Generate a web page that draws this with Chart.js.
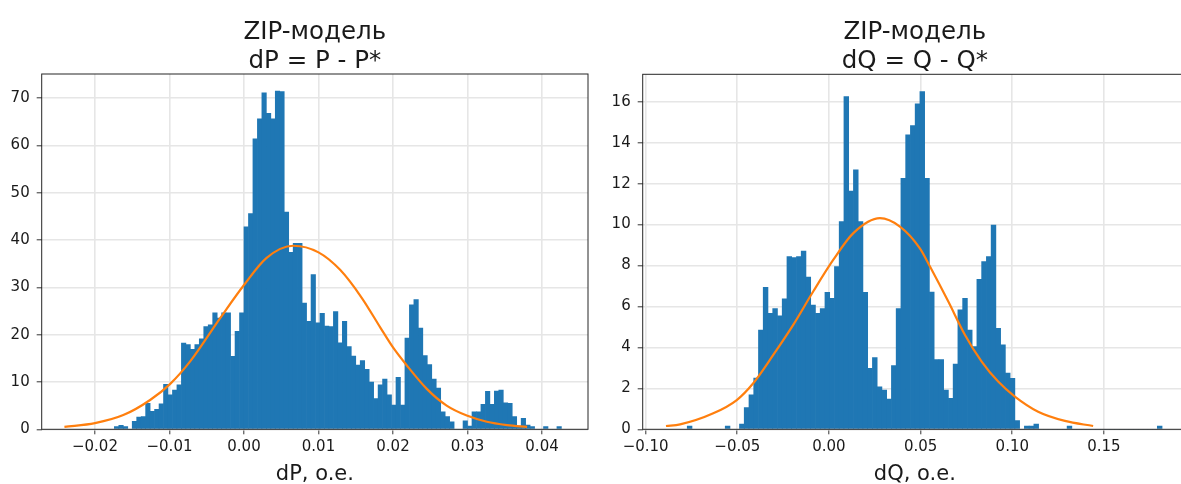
<!DOCTYPE html>
<html lang="ru">
<head>
  <meta charset="UTF-8">
  <title>ZIP-модель</title>
  <style>
    html, body { margin: 0; padding: 0; background: #fff; overflow: hidden; }
    .wrap { position: relative; width: 1181px; height: 484px; overflow: hidden; }
    #chartP { position: absolute; left: 0; top: 0; }
    #chartQ { position: absolute; left: 600px; top: 0; }
  </style>
</head>
<body>
  <div class="wrap">
    <canvas id="chartP" width="600" height="484"></canvas>
    <canvas id="chartQ" width="600" height="484"></canvas>
  </div>

  <script src="https://cdn.jsdelivr.net/npm/chart.js"></script>
  <script>
    // dP = P - P* : гистограмма (100 интервалов) и кривая нормального распределения
    const dpBinStart = -0.0174;
    const dpBinWidth = 0.0006;
    const dpCounts = [
      0.6, 0.85, 0.6, 0, 1.7, 2.6, 2.7, 5.5, 3.8, 4.2,
      5.4, 9.5, 7.3, 8.3, 9.4, 18.2, 17.9, 16.9, 17.9, 19.1,
      21.7, 22.1, 24.6, 23.5, 24.6, 24.6, 15.4, 20.7, 24.6, 42.8,
      45.6, 61.4, 65.6, 71.1, 66.8, 65.6, 71.5, 71.4, 45.9, 37.4,
      39.3, 39.3, 26.7, 22.8, 32.7, 22.5, 24.5, 21.8, 21.7, 24.9,
      18.3, 22.8, 17.5, 15.5, 13.6, 14.5, 12.7, 10, 6.5, 9.4,
      10.6, 7.3, 5.1, 11, 5.1, 19.3, 26.3, 27.4, 21.4, 15.6,
      13.7, 10.6, 8.7, 3.7, 2.7, 1.6, 0, 0, 1.8, 0.7,
      3.7, 3.7, 5.3, 8, 5.3, 8.1, 8.3, 5.6, 5.5, 2.7,
      0.7, 2.3, 0.9, 0.6, 0, 0, 0.6, 0, 0, 0.6
    ];
    const dpCurveX = [-0.0241, -0.0200, -0.0162, -0.0126, -0.0099, -0.0072, -0.0032, 0.0000, 0.0030, 0.0066, 0.0100,
      0.0129, 0.0158, 0.0183, 0.0200, 0.0218, 0.0245, 0.0272, 0.0299, 0.0326, 0.0353, 0.0380];
    const dpCurveY = [0.5, 1.3, 3.0, 6.2, 9.6, 14.4, 23.5, 30.5, 36.2, 38.8, 37.4,
      33.7, 27.8, 21.5, 17.3, 13.6, 8.6, 5.0, 2.9, 1.6, 0.9, 0.5];
    const dpTicksX = [-0.02, -0.01, 0, 0.01, 0.02, 0.03, 0.04];
    const dpTicksY = [0, 10, 20, 30, 40, 50, 60, 70];

    // dQ = Q - Q*
    const dqBinStart = -0.0773;
    const dqBinWidth = 0.00259;
    const dqCounts = [
      0.16, 0, 0, 0, 0, 0, 0, 0, 0.16, 0,
      0, 0.25, 1.06, 1.68, 2.5, 4.85, 6.94, 5.67, 5.9, 5.54,
      6.37, 8.44, 8.39, 8.44, 8.71, 7.43, 6.07, 5.67, 5.9, 6.69,
      6.4, 7.95, 10.15, 16.25, 11.64, 12.67, 10.15, 6.69, 2.98, 3.5,
      2.08, 1.92, 1.47, 3.11, 5.9, 12.26, 14.38, 14.84, 15.9, 16.5,
      12.26, 6.7, 3.4, 3.4, 1.92, 1.51, 3.19, 5.83, 6.4, 4.85,
      4.04, 7.33, 8.19, 8.44, 9.98, 4.93, 4.12, 2.74, 2.49, 0.42,
      0, 0.16, 0.16, 0.25, 0, 0, 0, 0, 0, 0,
      0.16, 0, 0, 0, 0, 0, 0, 0, 0, 0,
      0, 0, 0, 0, 0, 0, 0, 0, 0, 0.16
    ];
    const dqCurveX = [-0.0889, -0.0812, -0.0631, -0.0503, -0.0413, -0.0304, -0.0195, -0.0086, 0.0023, 0.0133, 0.0278,
      0.0387, 0.0496, 0.0551, 0.0651, 0.0742, 0.0833, 0.0923, 0.1014, 0.1141, 0.1287, 0.1441];
    const dqCurveY = [0.16, 0.24, 0.78, 1.43, 2.25, 3.63, 5.1, 6.73, 8.27, 9.58, 10.31,
      9.9, 8.84, 7.95, 6.24, 4.61, 3.31, 2.33, 1.6, 0.86, 0.41, 0.16];
    const dqTicksX = [-0.10, -0.05, 0, 0.05, 0.10, 0.15];
    const dqTicksY = [0, 2, 4, 6, 8, 10, 12, 14, 16];

    const tickFont = { family: "'DejaVu Sans', sans-serif", size: 15 };
    const textColor = '#1a1a1a';

    // рамка, заголовок и подпись оси
    const framePlugin = {
      id: 'frame',
      afterDraw(chart, args, o) {
        const { ctx, chartArea: a } = chart;
        ctx.save();
        ctx.strokeStyle = '#262626';
        ctx.lineWidth = 1;
        ctx.strokeRect(a.left, a.top, a.right - a.left, a.bottom - a.top);
        const cx = (a.left + a.right) / 2;
        ctx.fillStyle = textColor;
        ctx.textAlign = 'center';
        ctx.textBaseline = 'alphabetic';
        ctx.font = "24.5px 'DejaVu Sans'";
        ctx.fillText(o.title[0], cx, 39);
        ctx.fillText(o.title[1], cx, 68);
        ctx.font = "21px 'DejaVu Sans'";
        ctx.fillText(o.xlabel, cx, 480);
        ctx.restore();
      }
    };

    function fmtX(v) {
      return (v < 0 ? '\u2212' : '') + Math.abs(v).toFixed(2);
    }

    function makeChart(id, g) {
      const bars = g.counts.map((c, i) => ({ x: g.binStart + (i + 0.5) * g.binWidth, y: c }));
      const curve = g.curveX.map((x, i) => ({ x: x, y: g.curveY[i] }));
      return new Chart(document.getElementById(id), {
        type: 'bar',
        data: {
          datasets: [
            {
              type: 'line',
              data: curve,
              borderColor: '#ff7f0e',
              borderWidth: 2.2,
              pointRadius: 0,
              fill: false,
              cubicInterpolationMode: 'monotone',
              order: 0
            },
            {
              type: 'bar',
              data: bars,
              backgroundColor: '#1f77b4',
              borderWidth: 0,
              barPercentage: 1,
              categoryPercentage: 1,
              order: 1
            }
          ]
        },
        options: {
          responsive: false,
          animation: false,
          devicePixelRatio: 1,
          layout: { padding: { left: 0, right: g.padRight, top: g.top, bottom: 484 - g.bottom - 40 } },
          plugins: {
            legend: { display: false },
            tooltip: { enabled: false },
            frame: { title: g.title, xlabel: g.xlabel }
          },
          scales: {
            x: {
              type: 'linear',
              min: g.xMin,
              max: g.xMax,
              offset: false,
              afterBuildTicks: s => { s.ticks = g.ticksX.map(v => ({ value: v })); },
              afterFit: s => { s.height = 40; },
              grid: { offset: false, color: '#e6e6e6', lineWidth: 1.6, tickColor: '#333', tickLength: 5, tickWidth: 1 },
              border: { display: false },
              ticks: { font: tickFont, color: textColor, padding: 4, maxRotation: 0, autoSkip: false, callback: fmtX }
            },
            y: {
              min: 0,
              max: g.yMax,
              afterBuildTicks: s => { s.ticks = g.ticksY.map(v => ({ value: v })); },
              afterFit: s => { s.width = g.left; },
              grid: { color: '#e6e6e6', lineWidth: 1.6, tickColor: '#333', tickLength: 5, tickWidth: 1 },
              border: { display: false },
              ticks: { font: tickFont, color: textColor, padding: 7, callback: v => String(v) }
            }
          }
        },
        plugins: [framePlugin]
      });
    }

    makeChart('chartP', {
      counts: dpCounts, binStart: dpBinStart, binWidth: dpBinWidth,
      curveX: dpCurveX, curveY: dpCurveY, ticksX: dpTicksX, ticksY: dpTicksY,
      xMin: -0.02715, xMax: 0.04617, yMax: 75.1,
      left: 41.7, padRight: 12, top: 74, bottom: 429.3,
      title: ['ZIP-модель', 'dP = P - P*'], xlabel: 'dP, o.e.'
    });

    makeChart('chartQ', {
      counts: dqCounts, binStart: dqBinStart, binWidth: dqBinWidth,
      curveX: dqCurveX, curveY: dqCurveY, ticksX: dqTicksX, ticksY: dqTicksY,
      xMin: -0.1016, xMax: 0.1953, yMax: 17.34,
      left: 42.7, padRight: 13, top: 74.3, bottom: 429.3,
      title: ['ZIP-модель', 'dQ = Q - Q*'], xlabel: 'dQ, o.e.'
    });
  </script>
</body>
</html>
